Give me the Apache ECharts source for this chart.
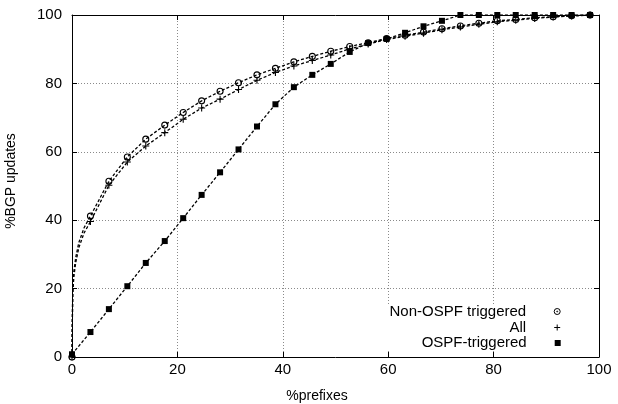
<!DOCTYPE html>
<html>
<head>
<meta charset="utf-8">
<script src="https://cdn.jsdelivr.net/npm/echarts@6/dist/echarts.min.js"></script>
<style>
html,body{margin:0;padding:0;background:#fff;}
#chart{width:618px;height:404px;}
</style>
</head>
<body>
<div id="chart"></div>
<script>
// ---- data ----
var markerX = [0, 3.5, 7.0, 10.5, 14.0, 17.6, 21.1, 24.6, 28.1, 31.6, 35.1, 38.6, 42.1, 45.6, 49.1, 52.7, 56.2, 59.7, 63.2, 66.7, 70.2, 73.7, 77.2, 80.7, 84.2, 87.8, 91.3, 94.8, 98.3];
var nonOspfY = [0, 41.2, 51.4, 58.5, 63.7, 67.8, 71.5, 74.9, 77.7, 80.2, 82.5, 84.4, 86.3, 87.9, 89.4, 90.8, 91.9, 93.1, 94.1, 95.0, 96.0, 96.8, 97.6, 98.3, 98.7, 99.2, 99.5, 99.8, 100];
var allY = [0, 39.6, 50.2, 57.0, 61.7, 65.6, 69.5, 72.8, 75.4, 78.2, 80.9, 83.2, 85.1, 86.7, 88.3, 90.1, 91.5, 92.8, 93.8, 94.7, 95.7, 96.5, 97.3, 98.0, 98.5, 99.0, 99.4, 99.7, 100];
var ospfY = [0.8, 7.3, 14.0, 20.7, 27.5, 33.9, 40.6, 47.4, 54.0, 60.7, 67.4, 73.9, 78.9, 82.5, 85.7, 89.2, 91.8, 93.0, 94.8, 96.7, 98.3, 100, 100, 100, 100, 100, 100, 100, 100];
// unmarked points of the steep start of the two concave curves
var fineX = [0.05, 0.15, 0.35, 0.7, 1.3, 2.3];
var nonOspfFineY = [10, 20, 25, 29, 33.5, 37.8];
var allFineY = [9, 18.5, 23.5, 27.5, 32, 36.3];
var seriesNames = ['Non-OSPF triggered', 'All', 'OSPF-triggered'];
var xTicks = [0, 20, 40, 60, 80, 100];
var yTicks = [0, 20, 40, 60, 80, 100];
var xTitle = '%prefixes';
var yTitle = '%BGP updates';

function pairs(xs, ys) { return xs.map(function (x, i) { return [x, ys[i]]; }); }
function withFine(fx, fy, xs, ys) {
  var m = pairs(xs, ys);
  var f = pairs(fx, fy);
  return [m[0]].concat(f, m.slice(1));
}

var FONT = '"Liberation Sans", Arial, sans-serif';
var circlePath = 'path://M10,5A5,5,0,1,1,0,5A5,5,0,1,1,10,5Z';
var circleDotPath = 'path://M10,5A5,5,0,1,1,0,5A5,5,0,1,1,10,5ZM5.8,5A0.8,0.8,0,1,1,4.2,5A0.8,0.8,0,1,1,5.8,5Z';
var plusPath = 'path://M0,5L10,5M5,0L5,10';

var lineStyle = { color: '#000', width: 1.3, type: [3, 2] };

var chart = echarts.init(document.getElementById('chart'), null, { renderer: 'canvas' });

function tickAxis(pos, showLabel, isX) {
  return {
    type: 'value', position: pos, min: 0, max: 100, interval: 20,
    axisLine: { show: true, onZero: false, lineStyle: { color: '#000', width: 1 } },
    axisTick: { show: true, inside: true, length: 5, lineStyle: { color: '#000', width: 1 } },
    axisLabel: showLabel ? {
      show: true, color: '#000', fontSize: 15, fontFamily: FONT,
      margin: isX ? 5 : 10,
      formatter: function (v) { return (isX ? xTicks : yTicks).indexOf(v) >= 0 ? String(v) : ''; }
    } : { show: false },
    splitLine: showLabel ? { show: true, lineStyle: { color: '#8a8a8a', width: 1, type: [1, 2] } } : { show: false }
  };
}

function legendFor(name, icon, centerY, itemStyle, size) {
  return {
    data: [{ name: name, icon: icon, itemStyle: itemStyle }],
    orient: 'vertical', align: 'right',
    right: 618 - 557.7 - size / 2,
    top: centerY - 9,
    padding: 0,
    itemWidth: size, itemHeight: size,
    selectedMode: false,
    textStyle: { color: '#000', fontSize: 15, fontFamily: FONT, padding: [0, 31 - 5 - size / 2, 0, 0] }
  };
}

var option = {
  backgroundColor: '#fff',
  animation: false,
  grid: { left: 72, right: 19, top: 15, bottom: 47, containLabel: false },
  xAxis: [tickAxis('bottom', true, true), tickAxis('top', false, true)],
  yAxis: [tickAxis('left', true, false), tickAxis('right', false, false)],
  legend: [
    legendFor(seriesNames[0], circleDotPath, 313, { color: 'transparent', borderColor: '#000', borderWidth: 1 }, 6),
    legendFor(seriesNames[1], plusPath, 329, { color: 'transparent', borderColor: '#000', borderWidth: 1 }, 6),
    legendFor(seriesNames[2], 'rect', 344.5, { color: '#000', borderWidth: 0 }, 6)
  ],
  graphic: [
    { type: 'rect', z: 1, silent: true, shape: { x: 380, y: 304, width: 218, height: 47 }, style: { fill: '#fff' } },
    { type: 'text', silent: true, x: 317, y: 396, style: { text: xTitle, fill: '#000', font: '14px ' + FONT, align: 'center', verticalAlign: 'middle' } },
    { type: 'text', silent: true, x: 11.5, y: 181, rotation: Math.PI / 2, style: { text: yTitle, fill: '#000', font: '14px ' + FONT, align: 'center', verticalAlign: 'middle' } }
  ],
  series: [
    { name: 'nonline', type: 'line', silent: true, showSymbol: false, symbol: 'none', z: 3, lineStyle: lineStyle,
      data: withFine(fineX, nonOspfFineY, markerX, nonOspfY) },
    { name: 'allline', type: 'line', silent: true, showSymbol: false, symbol: 'none', z: 3, lineStyle: lineStyle,
      data: withFine(fineX, allFineY, markerX, allY) },
    { name: seriesNames[0], type: 'scatter', silent: true, symbol: circlePath, symbolSize: 6, z: 4,
      itemStyle: { color: 'transparent', borderColor: '#000', borderWidth: 1.1, opacity: 1 },
      data: pairs(markerX, nonOspfY) },
    { name: seriesNames[1], type: 'scatter', silent: true, symbol: plusPath, symbolSize: 7, z: 4,
      itemStyle: { color: 'transparent', borderColor: '#000', borderWidth: 1.1, opacity: 1 },
      data: pairs(markerX, allY) },
    { name: 'ospfline', type: 'line', silent: true, showSymbol: false, symbol: 'none', z: 5, lineStyle: lineStyle,
      data: pairs(markerX, ospfY) },
    { name: seriesNames[2], type: 'scatter', silent: true, symbol: 'rect', symbolSize: 6, z: 6,
      itemStyle: { color: '#000', opacity: 1 },
      data: pairs(markerX, ospfY) }
  ]
};
chart.setOption(option);
</script>
</body>
</html>
